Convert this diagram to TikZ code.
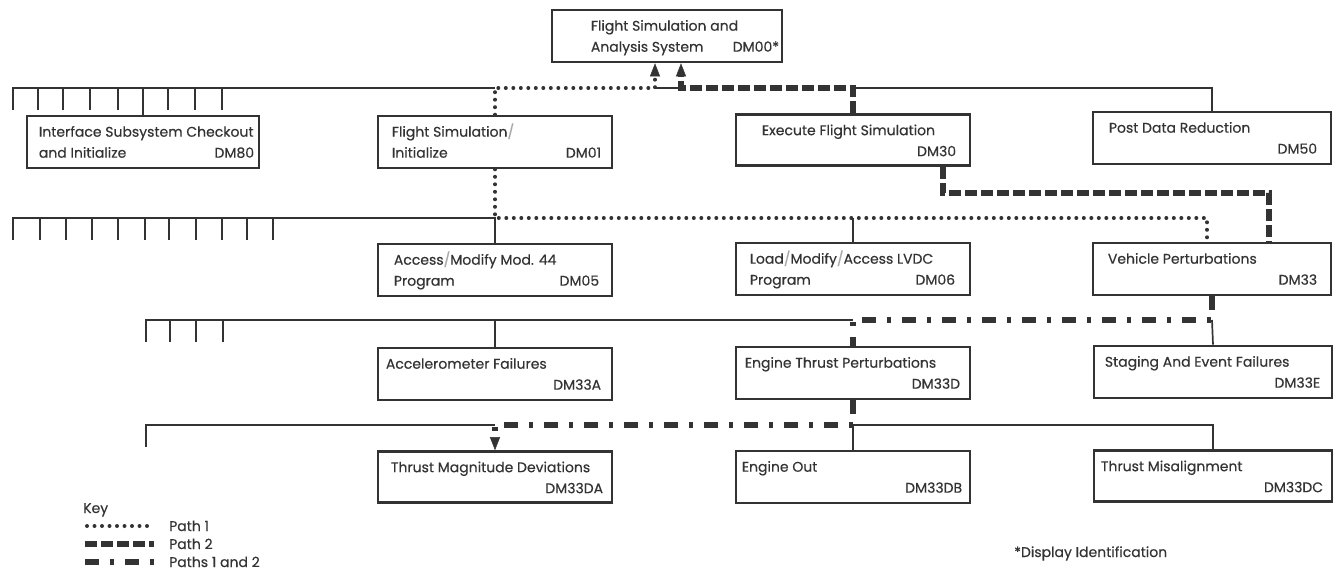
\documentclass[tikz,border=0pt]{standalone}
\usepackage{fontspec}
\setmainfont{Poppins}[FakeBold=0.35]
\usetikzlibrary{arrows.meta}
\definecolor{ink}{HTML}{333333}
\definecolor{slashgray}{HTML}{A8A8A8}
\newcommand\slashmark{\textcolor{slashgray}{/}}
% box: name, centre x, centre y, width, height
\newcommand\dmbox[5]{\node[box, minimum width=#4pt, minimum height=#5pt] (#1) at (#2,#3) {};}
% first line of a box: box, indent, text
\newcommand\lineone[3]{\node[txt, anchor=base west] (#1-a) at ([xshift=#2pt, yshift=-22pt]#1.north west) {#3};}
% second line, left part: box, indent, text
\newcommand\linetwo[3]{\node[txt, anchor=base west] (#1-b) at ([xshift=#2pt, yshift=-43pt]#1.north west) {#3};}
% display code, right aligned: box, right indent, code
\newcommand\dmcode[3]{\node[txt, anchor=base east] (#1-c) at ([xshift=-#2pt, yshift=-43pt]#1.north east) {#3};}
\begin{document}
\begin{tikzpicture}[x=1pt, y=-1pt,
  box/.style={draw=ink, line width=2.6pt, inner sep=0pt, fill=white},
  txt/.style={inner sep=0pt, text=ink, font=\fontsize{14}{16}\selectfont},
  wire/.style={draw=ink, line width=1.7pt},
  pone/.style={draw=ink, line width=4pt, line cap=round, dash pattern=on 0pt off 7.5pt},
  ptwo/.style={draw=ink, line width=5.5pt, dash pattern=on 12pt off 4pt},
  pboth/.style={draw=ink, line width=5.5pt, dash pattern=on 14pt off 11pt on 4pt off 11pt},
  tip/.style={-{Triangle[width=10pt, length=13pt, line width=0.4pt]}},
]
\useasboundingbox (0,0) rectangle (1336,573);

% ---- boxes ----
\dmbox{dm00}{667}{36}{230}{52}
\dmbox{dm80}{143}{142}{232}{52}
\dmbox{dm01}{495}{142}{234}{52}
\dmbox{dm30}{853}{140}{234}{51}
\dmbox{dm50}{1212}{138}{238}{52}
\dmbox{dm05}{495}{270}{234}{52}
\dmbox{dm06}{853}{269}{234}{52}
\dmbox{dm33}{1212}{269}{238}{52}
\dmbox{dm33a}{495}{374}{234}{52}
\dmbox{dm33d}{853}{373}{234}{52}
\dmbox{dm33e}{1213}{372}{238}{52}
\dmbox{dm33da}{495}{477}{234}{51}
\dmbox{dm33db}{853}{477}{234}{52}
\dmbox{dm33dc}{1213}{476}{238}{51}

% ---- box texts ----
\lineone{dm00}{40}{Flight Simulation and}
\linetwo{dm00}{40}{Analysis System}
\dmcode{dm00}{4}{DM00*}

\lineone{dm80}{13}{Interface Subsystem Checkout}
\linetwo{dm80}{13}{and Initialize}
\dmcode{dm80}{6}{DM80}

\lineone{dm01}{15}{Flight Simulation\slashmark}
\linetwo{dm01}{15}{Initialize}
\dmcode{dm01}{12}{DM01}

\lineone{dm30}{27}{Execute Flight Simulation}
\dmcode{dm30}{15}{DM30}

\lineone{dm50}{17}{Post Data Reduction}
\dmcode{dm50}{15}{DM50}

\lineone{dm05}{17}{Access\slashmark Modify Mod. 44}
\linetwo{dm05}{17}{Program}
\dmcode{dm05}{14}{DM05}

\lineone{dm06}{15}{Load\slashmark Modify\slashmark Access LVDC}
\linetwo{dm06}{15}{Program}
\dmcode{dm06}{16}{DM06}

\lineone{dm33}{16}{Vehicle Perturbations}
\dmcode{dm33}{15}{DM33}

\lineone{dm33a}{9}{Accelerometer Failures}
\dmcode{dm33a}{12}{DM33A}

\lineone{dm33d}{10}{Engine Thrust Perturbations}
\dmcode{dm33d}{11}{DM33D}

\lineone{dm33e}{12}{Staging And Event Failures}
\dmcode{dm33e}{13}{DM33E}

\lineone{dm33da}{14}{Thrust Magnitude Deviations}
\dmcode{dm33da}{10}{DM33DA}

\lineone{dm33db}{7}{Engine Out}
\dmcode{dm33db}{9}{DM33DB}

\lineone{dm33dc}{8}{Thrust Misalignment}
\dmcode{dm33dc}{10}{DM33DC}

% ---- bus coordinates ----
\coordinate (l1) at (13,88);
\coordinate (l2) at (13,218);
\coordinate (l3) at (146,320);
\coordinate (l4) at (146,425);
\coordinate (j1a) at (655,88);
\coordinate (j1b) at (681,88);
\coordinate (k1) at (943,193);
\coordinate (k2) at (1269,193);
\coordinate (k3) at (1207,218);

% ---- level 1 ----
\draw[wire] (13,110) -- (l1) -- (dm01.north |- l1);
\draw[wire] (j1a) -- (j1b);
\draw[wire] (dm30.north |- l1) -- (dm50.north |- l1) -- (dm50.north);
\draw[wire] (dm80.north |- l1) -- (dm80.north);
\foreach \x in {38,63,90,118,168,195,222} \draw[wire] (\x,88) -- (\x,110);

% ---- level 2 ----
\draw[wire] (13,240) -- (l2) -- (dm05.north |- l2) -- (dm05.north);
\draw[wire] (dm06.north |- l2) -- (dm06.north);
\foreach \x in {40,66,92,118,145,169,196,222,247,273} \draw[wire] (\x,218) -- (\x,240);

% ---- level 3 ----
\draw[wire] (146,342) -- (l3) -- (dm33d.north |- l3);
\draw[wire] (dm33a.north |- l3) -- (dm33a.north);
\draw[wire] (dm33.south |- l3) -- (dm33e.north);
\foreach \x in {170,196,223} \draw[wire] (\x,320) -- (\x,342);

% ---- level 4 ----
\draw[wire] (146,447) -- (l4) -- (dm33da.north |- l4);
\draw[wire] (dm33db.north |- l4) -- (dm33dc.north |- l4) -- (dm33dc.north);
\draw[wire] (dm33db.north |- l4) -- (dm33db.north);

% ---- path 1 ----
\draw[pone, tip] (dm01.north) -- (dm01.north |- l1) -- (j1a) -- (j1a |- dm00.south);
\draw[pone] (dm01.south) -- (dm01.south |- l2) -- (k3) -- (k3 |- dm33.north);

% ---- path 2 ----
\draw[ptwo, tip] (dm30.north) -- (dm30.north |- l1) -- (j1b) -- (j1b |- dm00.south);
\draw[ptwo] (dm30.south -| k1) -- (k1) -- (k2) -- (k2 |- dm33.north);

% ---- paths 1 and 2 ----
\draw[pboth] (dm33.south) -- (dm33.south |- l3) -- (dm33d.north |- l3) -- (dm33d.north);
\draw[pboth, tip] (dm33d.south) -- (dm33d.south |- l4) -- (dm33da.north |- l4) -- (dm33da.north);

% ---- key ----
\node[txt, anchor=base west] (key) at (83,513) {Key};
\coordinate (ka1) at (87,526); \coordinate (ka2) at (152,526);
\coordinate (kb1) at (85,544); \coordinate (kb2) at (154,544);
\coordinate (kc1) at (85,562); \coordinate (kc2) at (154,562);
\draw[pone] (ka1) -- (ka2);
\draw[ptwo] (kb1) -- (kb2);
\draw[pboth] (kc1) -- (kc2);
\node[txt, anchor=base west] (k1t) at (169,531) {Path 1};
\node[txt, anchor=base west] (k2t) at (169,549) {Path 2};
\node[txt, anchor=base west] (k3t) at (169,567) {Paths 1 and 2};

\node[txt, anchor=base west] (note) at (1014,557) {*Display Identification};
\end{tikzpicture}
\end{document}
